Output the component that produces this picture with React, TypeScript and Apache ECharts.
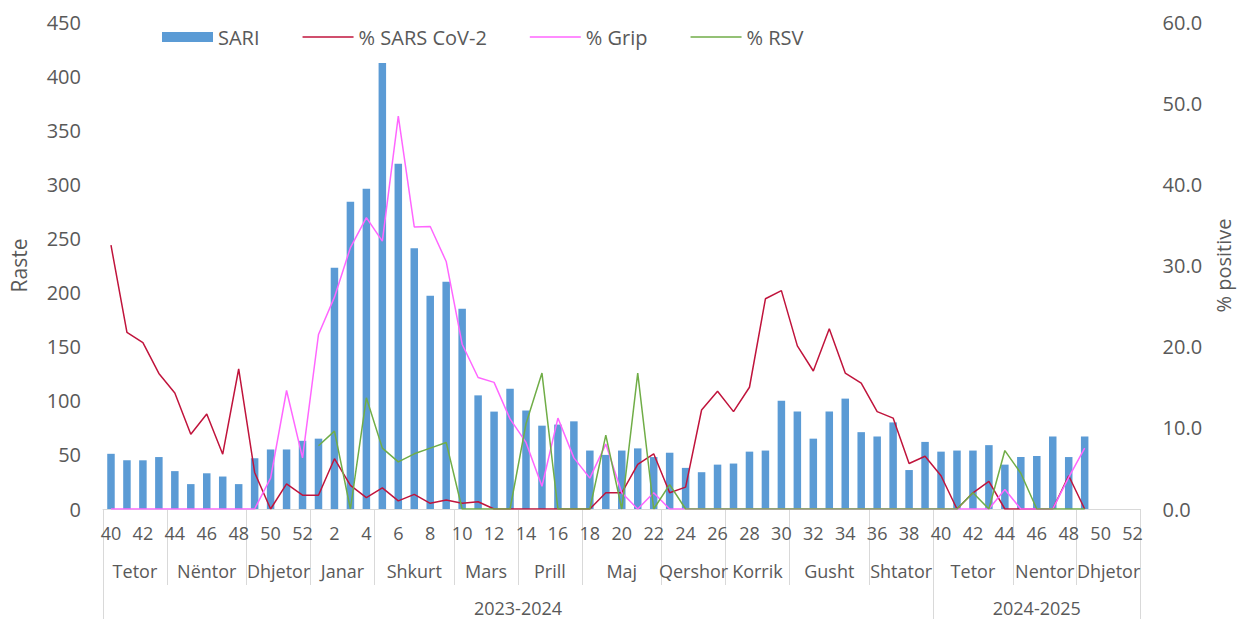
import React, { useEffect, useRef } from "react";
import * as echarts from "echarts";

// Week labels: 2023-2024 season (40..52, 1..39) and 2024-2025 season (40..52)
const weeks: string[] = [
  "40", "41", "42", "43", "44", "45", "46", "47", "48", "49", "50", "51", "52",
  "1", "2", "3", "4", "5", "6", "7", "8", "9", "10", "11", "12", "13", "14", "15", "16", "17", "18", "19", "20",
  "21", "22", "23", "24", "25", "26", "27", "28", "29", "30", "31", "32", "33", "34", "35", "36", "37", "38", "39",
  "40", "41", "42", "43", "44", "45", "46", "47", "48", "49", "50", "51", "52",
];

// Months (number of weeks each covers)
const monthNames: string[] = [
  "Tetor", "Nëntor", "Dhjetor", "Janar", "Shkurt", "Mars", "Prill", "Maj", "Qershor", "Korrik", "Gusht", "Shtator",
  "Tetor", "Nentor", "Dhjetor",
];
const monthWeeks: number[] = [4, 5, 4, 4, 5, 4, 4, 5, 4, 4, 5, 4, 5, 4, 4];

// Seasons (number of weeks each covers)
const seasonNames: string[] = ["2023-2024", "2024-2025"];
const seasonWeeks: number[] = [52, 13];

// SARI cases (left axis)
const sari: (number | null)[] = [
  51, 45, 45, 48, 35, 23, 33, 30, 23, 47, 55, 55, 63,
  65, 223, 284, 296, 412, 319, 241, 197, 210, 185, 105, 90, 111, 91, 77, 78, 81, 54, 50, 54,
  56, 48, 52, 38, 34, 41, 42, 53, 54, 100, 90, 65, 90, 102, 71, 67, 80, 36, 62,
  53, 54, 54, 59, 41, 48, 49, 67, 48, 67, null, null, null,
];

// % positive SARS CoV-2 (right axis)
const sarsCov2: (number | null)[] = [
  32.5, 21.75, 20.5, 16.7, 14.3, 9.2, 11.7, 6.75, 17.25, 4.5, 0, 3.1, 1.7,
  1.7, 6.2, 2.9, 1.4, 2.6, 1.0, 1.8, 0.7, 1.1, 0.7, 0.9, 0, 0, 0, 0, 0, 0, 0, 2.0, 2.0,
  5.5, 6.8, 2.0, 2.7, 12.2, 14.5, 12.0, 15.0, 25.9, 26.9, 20.1, 17.0, 22.2, 16.75, 15.5, 12.0, 11.2, 5.6, 6.5,
  4.1, 0, 2.0, 3.4, 0, 0, 0, 0, 4.1, 0, null, null, null,
];

// % positive influenza (Grip)
const grip: (number | null)[] = [
  0, 0, 0, 0, 0, 0, 0, 0, 0, 0, 3.8, 14.6, 6.3,
  21.5, 26.1, 32.2, 35.9, 33.0, 48.4, 34.75, 34.8, 30.5, 20.3, 16.2, 15.6, 11.1, 8.2, 2.8, 11.2, 6.3, 3.8, 8.0, 2.0,
  0, 2.0, 0, 0, 0, 0, 0, 0, 0, 0, 0, 0, 0, 0, 0, 0, 0, 0, 0,
  0, 0, 0, 0, 2.4, 0, 0, 0, 3.9, 7.5, null, null, null,
];

// % positive RSV
const rsv: (number | null)[] = [
  null, null, null, null, null, null, null, null, null, null, null, null, null,
  7.8, 9.6, 0, 13.7, 7.5, 5.8, 6.8, 7.5, 8.2, 0, 0, 0, 0, 10.5, 16.75, 0, 0, 0, 9.1, 0,
  16.75, 0, 3.0, 0, 0, 0, 0, 0, 0, 0, 0, 0, 0, 0, 0, 0, 0, 0, 0,
  0, 0, 2.0, 0, 7.2, 4.4, 0, 0, 0, 0, null, null, null,
];

const leftTicks = { min: 0, max: 450, interval: 50 };
const rightTicks = { min: 0, max: 60, interval: 10 };

function boundaries(spans: number[]): number[] {
  const out = [0];
  spans.forEach((s) => out.push(out[out.length - 1] + s));
  return out;
}
function centers(spans: number[]): number[] {
  const b = boundaries(spans);
  return spans.map((s, i) => b[i] + s / 2);
}

const FONT = "Open Sans";
const TXT = "#595959";
const GRIDLINE = "#D9D9D9";
// thin horizontal line icon inside a 51x10 box (the extra moveTo points fix the bounds)
const LINE_ICON = "path://M0,0 M51,10 M0,4.25 L51,4.25 L51,5.75 L0,5.75 Z";

export default function App() {
  const ref = useRef<HTMLDivElement>(null);

  useEffect(() => {
    if (!ref.current) return;
    const chart = echarts.init(ref.current, null, { renderer: "svg" });
    const total = weeks.length;
    const monthB = boundaries(monthWeeks);
    const monthC = centers(monthWeeks);
    const seasonB = boundaries(seasonWeeks);
    const seasonC = centers(seasonWeeks);

    chart.setOption({
      animation: false,
      textStyle: { fontFamily: FONT },
      grid: { left: 102, right: 95, top: 22, bottom: 110, containLabel: false },
      legend: {
        left: 157,
        top: 22,
        itemGap: 43,
        itemWidth: 51,
        itemHeight: 10,
        textStyle: { fontFamily: FONT, fontSize: 20, color: TXT },
        data: [
          { name: "SARI", icon: "rect" },
          { name: "% SARS CoV-2", icon: LINE_ICON },
          { name: "% Grip", icon: LINE_ICON },
          { name: "% RSV", icon: LINE_ICON },
        ],
      },
      xAxis: [
        {
          type: "category",
          position: "bottom",
          data: weeks,
          boundaryGap: true,
          axisLine: { show: true, lineStyle: { color: GRIDLINE, width: 1 } },
          axisTick: { show: false },
          splitLine: { show: false },
          axisLabel: { interval: 1, margin: 15, fontFamily: FONT, fontSize: 18, color: TXT },
        },
        {
          type: "value",
          position: "bottom",
          min: 0,
          max: total,
          axisLine: { show: false },
          splitLine: { show: false },
          axisTick: {
            show: true,
            customValues: monthB,
            length: 76,
            lineStyle: { color: GRIDLINE, width: 1 },
          },
          axisLabel: {
            customValues: monthC,
            margin: 53,
            fontFamily: FONT,
            fontSize: 18,
            color: TXT,
            formatter: (v: number) => {
              const i = monthC.indexOf(v);
              return i >= 0 ? monthNames[i] : "";
            },
          },
        },
        {
          type: "value",
          position: "bottom",
          min: 0,
          max: total,
          axisLine: { show: false },
          splitLine: { show: false },
          axisTick: {
            show: true,
            customValues: seasonB,
            length: 112,
            lineStyle: { color: GRIDLINE, width: 1 },
          },
          axisLabel: {
            customValues: seasonC,
            margin: 90,
            fontFamily: FONT,
            fontSize: 18,
            color: TXT,
            formatter: (v: number) => {
              const i = seasonC.indexOf(v);
              return i >= 0 ? seasonNames[i] : "";
            },
          },
        },
      ],
      yAxis: [
        {
          type: "value",
          position: "left",
          ...leftTicks,
          name: "Raste",
          nameLocation: "middle",
          nameRotate: 90,
          nameGap: 74,
          nameTextStyle: { fontFamily: FONT, fontSize: 21, color: TXT },
          axisLine: { show: false },
          axisTick: { show: false },
          splitLine: { show: false },
          axisLabel: { margin: 22, fontFamily: FONT, fontSize: 20, color: TXT },
        },
        {
          type: "value",
          position: "right",
          ...rightTicks,
          name: "% positive",
          nameLocation: "middle",
          nameRotate: 90,
          nameGap: 72,
          nameTextStyle: { fontFamily: FONT, fontSize: 20, color: TXT },
          axisLine: { show: false },
          axisTick: { show: false },
          splitLine: { show: false },
          axisLabel: {
            margin: 22,
            fontFamily: FONT,
            fontSize: 20,
            color: TXT,
            formatter: (v: number) => v.toFixed(1),
          },
        },
      ],
      series: [
        {
          name: "SARI",
          type: "bar",
          xAxisIndex: 0,
          yAxisIndex: 0,
          data: sari,
          barWidth: "47%",
          itemStyle: { color: "#5B9BD5" },
        },
        {
          name: "% SARS CoV-2",
          type: "line",
          xAxisIndex: 0,
          yAxisIndex: 1,
          data: sarsCov2,
          symbol: "none",
          lineStyle: { color: "#C0143C", width: 1.5 },
          itemStyle: { color: "#C0143C" },
        },
        {
          name: "% Grip",
          type: "line",
          xAxisIndex: 0,
          yAxisIndex: 1,
          data: grip,
          symbol: "none",
          lineStyle: { color: "#FF66FF", width: 1.5 },
          itemStyle: { color: "#FF66FF" },
        },
        {
          name: "% RSV",
          type: "line",
          xAxisIndex: 0,
          yAxisIndex: 1,
          data: rsv,
          symbol: "none",
          lineStyle: { color: "#70AD47", width: 1.5 },
          itemStyle: { color: "#70AD47" },
        },
      ],
    });

    return () => chart.dispose();
  }, []);

  return (
    <div
      ref={ref}
      style={{ position: "fixed", left: 0, top: 0, width: 1241, height: 619, background: "#fff" }}
    />
  );
}
